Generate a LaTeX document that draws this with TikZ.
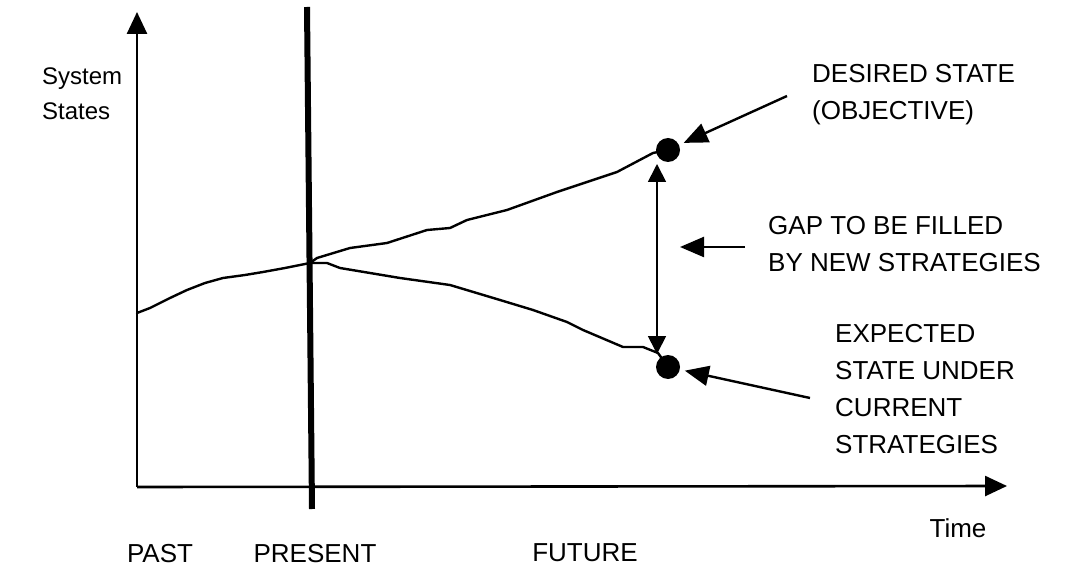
\documentclass[tikz,border=0pt]{standalone}
\usepackage{fontspec}
\setmainfont{Liberation Sans}
\usetikzlibrary{arrows.meta}
\begin{document}
\begin{tikzpicture}[x=1pt,y=-1pt,
  lbl/.style={inner sep=0pt, font=\fontsize{26}{37}\selectfont, align=left},
  axlbl/.style={inner sep=0pt, font=\fontsize{26}{37}\selectfont},
  axis/.style={line width=2.6pt, -{Triangle[length=22pt,width=20pt]}},
  curve/.style={line width=2.4pt, line join=round, line cap=round},
  ptr/.style={line width=2.4pt, -{Triangle[length=24pt,width=20pt]}},
  gaparrow/.style={line width=1.8pt, {Triangle[length=18pt,width=18pt]}-{Triangle[length=18pt,width=18pt]}},
  dot/.style={circle, fill=black, inner sep=0pt, minimum size=24pt},
]
\useasboundingbox (0,0) rectangle (1073,569);

% axes
\coordinate (origin) at (137,487);
\coordinate (ytop) at (137,12);
\coordinate (xend) at (1007,486);
\draw[axis] (origin) -- (ytop);
\draw[axis] (origin) -- (xend);

% present line
\coordinate (prestop) at (307,7);
\coordinate (presbot) at (312,509);
\draw[line width=6pt] (prestop) -- (presbot);

% state dots
\node[dot] (up) at (668,150) {};
\node[dot] (low) at (668,367) {};
\coordinate (now) at (310,263);

% curves
\draw[curve] (137,313) -- (150,308) -- (170,298) -- (187,290) -- (205,283) -- (223,278)
  -- (245,275) -- (263,272) -- (285,268) -- (now);
\draw[curve] (now) -- (317,258) -- (350,248) -- (387,243) -- (427,230) -- (450,228)
  -- (467,220) -- (507,210) -- (557,192) -- (593,180) -- (617,172) -- (653,153) -- (up.center);
\draw[curve] (now) -- (327,263) -- (340,268) -- (400,278) -- (450,285) -- (500,300)
  -- (533,310) -- (567,322) -- (583,330) -- (623,347) -- (643,347) -- (658,353) -- (low.center);

% gap arrow
\coordinate (gaptop) at (657,164);
\coordinate (gapbot) at (657,354);
\draw[gaparrow] (gaptop) -- (gapbot);

% labels
\node[lbl, anchor=north west, font=\fontsize{24}{35}\selectfont] (sys) at (42,68) {System\\States};
\node[lbl, anchor=north west] (desired) at (812,64) {DESIRED STATE\\(OBJECTIVE)};
\node[lbl, anchor=north west] (gap) at (768,216) {GAP TO BE FILLED\\BY NEW STRATEGIES};
\node[lbl, anchor=north west] (expected) at (835,324) {EXPECTED\\STATE UNDER\\CURRENT\\STRATEGIES};

\node[axlbl, anchor=base] (time) at (958,537) {Time};
\node[axlbl, anchor=base] (past) at (160,562) {PAST};
\node[axlbl, anchor=base] (present) at (315,562) {PRESENT};
\node[axlbl, anchor=base] (future) at (585,561) {FUTURE};

% pointer arrows
\coordinate (dtail) at (787,96);
\coordinate (etail) at (810,398);
\coordinate (gtail) at (745,247);
\coordinate (gtip) at (680,247);
\draw[ptr, shorten >=5pt] (dtail) -- (up);
\draw[ptr, shorten >=5pt] (etail) -- (low);
\draw[ptr] (gtail) -- (gtip);
\end{tikzpicture}
\end{document}
